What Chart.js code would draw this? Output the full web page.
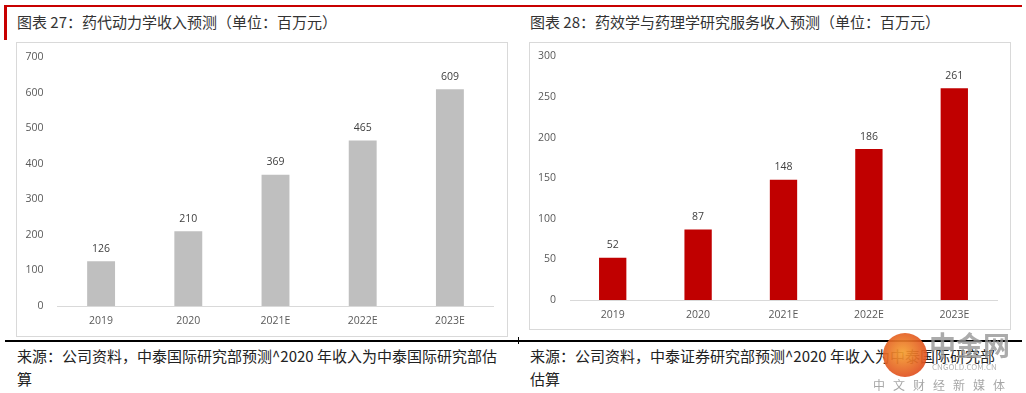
<!DOCTYPE html>
<html><head><meta charset="utf-8">
<script src="https://cdn.jsdelivr.net/npm/chart.js@4/dist/chart.umd.min.js"></script>
<style>
html,body{margin:0;padding:0;background:#fff;}
body{width:1026px;height:393px;position:relative;overflow:hidden;font-family:"Noto Sans CJK SC",sans-serif;}
.abs{position:absolute;white-space:nowrap;}
.title{font-size:15px;color:#333;line-height:20px;}
.src{font-size:15px;color:#222;line-height:23px;white-space:normal;}
.box{border:1px solid #d9d9d9;box-sizing:border-box;}
</style></head><body>
<div class="abs" style="left:4px;top:5px;width:1018px;height:2px;background:#c80000"></div>
<div class="abs" style="left:4px;top:5px;width:3px;height:35px;background:#c80000"></div>
<div class="abs title" style="left:17px;top:12px">图表 27：药代动力学收入预测（单位：百万元）</div>
<div class="abs title" style="left:530px;top:12px">图表 28：药效学与药理学研究服务收入预测（单位：百万元）</div>
<div class="abs box" style="left:16px;top:42px;width:492px;height:295px"><canvas id="c1" width="490" height="293"></canvas></div>
<div class="abs box" style="left:529px;top:42px;width:482px;height:288px"><canvas id="c2" width="480" height="286"></canvas></div>
<div class="abs" style="left:5px;top:340px;width:1017px;height:1.5px;background:#000"></div>
<div class="abs" style="left:518px;top:337px;width:1px;height:7px;background:#000"></div>
<div class="abs src" style="left:17px;top:344px;width:490px">来源：公司资料，中泰国际研究部预测^2020 年收入为中泰国际研究部估<br>算</div>
<div class="abs src" style="left:530px;top:344px;width:480px">来源：公司资料，中泰证券研究部预测^2020 年收入为中泰国际研究部<br>估算</div>
<div class="abs" style="left:883px;top:333px;width:44px;height:44px;border-radius:50%;background:radial-gradient(circle at 45% 45%,#f5a030,#d8301a);opacity:0.92"></div>
<div class="abs" style="left:929px;top:328px;font-size:27px;font-weight:bold;color:rgba(150,150,150,0.8);line-height:34px">中金网</div>
<div class="abs" style="left:932px;top:362px;font-size:8px;color:rgba(150,150,150,0.7);line-height:10px">CNGOLD.COM.CN</div>
<div class="abs" style="left:873px;top:377px;font-size:12px;color:rgba(150,150,150,0.85);line-height:16px;letter-spacing:8px">中文财经新媒体</div>
<script>
const categories = ["2019","2020","2021E","2022E","2023E"];
const pkValues = [126,210,369,465,609];
const pdValues = [52,87,148,186,261];
const pkTicks = [0,100,200,300,400,500,600,700];
const pdTicks = [0,50,100,150,200,250,300];

const tickFont = {family:"'Open Sans', sans-serif", size:10.5};
const labelPlugin = {
  id:'vlabels',
  afterDatasetsDraw(chart){
    const ctx = chart.ctx;
    const meta = chart.getDatasetMeta(0);
    const data = chart.data.datasets[0].data;
    ctx.save();
    ctx.font = "10.5px 'Open Sans', sans-serif";
    ctx.fillStyle = "#404040";
    ctx.textAlign = "center";
    ctx.textBaseline = "middle";
    meta.data.forEach((bar,i)=>{ ctx.fillText(String(data[i]), bar.x, bar.y - 12.5); });
    ctx.restore();
  }
};
function make(id, values, ticks, color, yw, xh, padR, padT){
  new Chart(document.getElementById(id), {
    type:'bar',
    data:{labels:categories, datasets:[{data:values, backgroundColor:color, borderWidth:0, barPercentage:0.32, categoryPercentage:1}]},
    options:{
      responsive:false, animation:false,
      layout:{padding:{left:0,right:padR,top:padT,bottom:0}},
      plugins:{legend:{display:false}, tooltip:{enabled:false}},
      scales:{
        x:{grid:{display:false, drawTicks:false}, border:{display:true,color:'#d9d9d9',width:1},
           ticks:{color:'#595959', font:tickFont, padding:9, maxRotation:0},
           afterFit(s){ s.height = xh; s.paddingLeft = 0; s.paddingRight = 0; }},
        y:{min:ticks[0], max:ticks[ticks.length-1], grid:{display:false, drawTicks:false}, border:{display:false},
           afterBuildTicks(s){ s.ticks = ticks.map(v=>({value:v})); },
           ticks:{color:'#595959', font:tickFont, padding:14},
           afterFit(s){ s.width = yw; s.paddingTop = 0; s.paddingBottom = 0; }}
      }
    },
    plugins:[labelPlugin]
  });
}
make('c1', pkValues, pkTicks, '#bfbfbf', 40.5, 30, 13.5, 14);
make('c2', pdValues, pdTicks, '#c00000', 40, 29, 13, 13.5);
</script>
</body></html>
